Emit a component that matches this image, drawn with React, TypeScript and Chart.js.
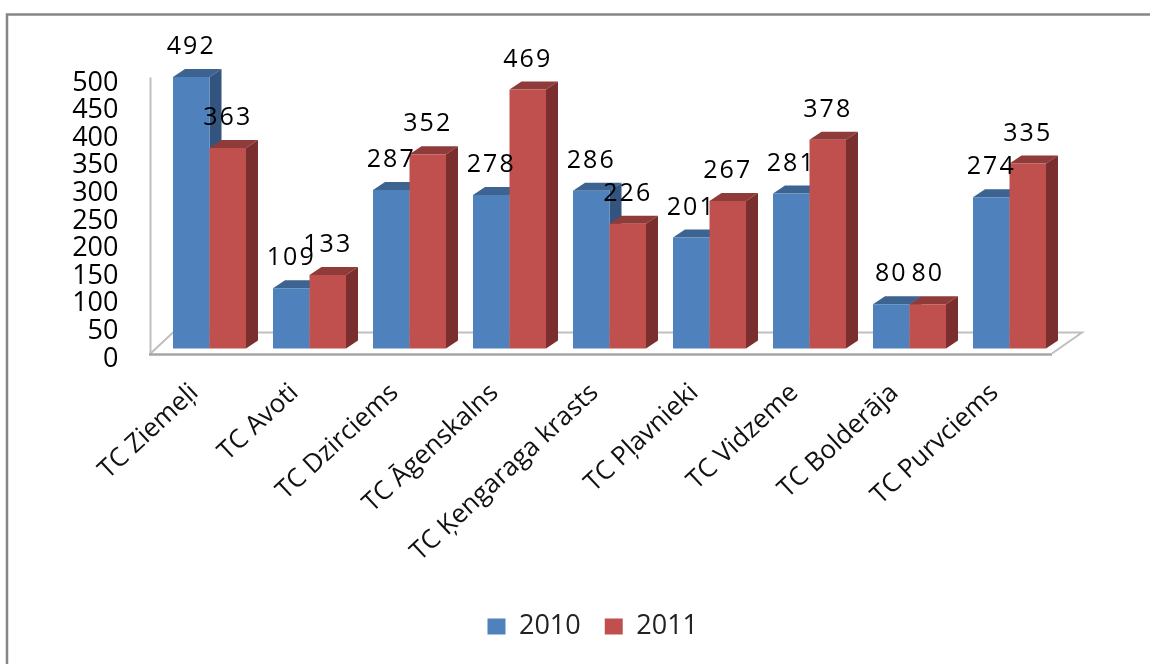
import React, { useEffect, useRef } from "react";
import { Chart, registerables } from "chart.js";

Chart.register(...registerables);

const categories = ["TC Ziemeļi", "TC Avoti", "TC Dzirciems", "TC Āgenskalns", "TC Ķengaraga krasts", "TC Pļavnieki", "TC Vidzeme", "TC Bolderāja", "TC Purvciems"];
const values2010 = [492, 109, 287, 278, 286, 201, 281, 80, 274];
const values2011 = [363, 133, 352, 469, 226, 267, 378, 80, 335];
const FONT = "'Open Sans', sans-serif";

const depthX = 12;
const depthY = 8;
const shades = [
  { top: "#3D6391", side: "#33547E" },
  { top: "#8F3B39", side: "#7A2F2E" },
];

function poly(ctx: CanvasRenderingContext2D, pts: number[][], fill: string) {
  ctx.beginPath();
  pts.forEach(([x, y], i) => (i ? ctx.lineTo(x, y) : ctx.moveTo(x, y)));
  ctx.closePath();
  ctx.fillStyle = fill;
  ctx.fill();
}

function line(ctx: CanvasRenderingContext2D, pts: number[][], color: string, w: number) {
  ctx.beginPath();
  pts.forEach(([x, y], i) => (i ? ctx.lineTo(x, y) : ctx.moveTo(x, y)));
  ctx.strokeStyle = color;
  ctx.lineWidth = w;
  ctx.stroke();
}

const bars3d = {
  id: "bars3d",
  beforeDraw(chart: any) {
    const ctx = chart.ctx;
    line(ctx, [[1150, 14.5], [7, 14.5], [7, 664]], "#868686", 2.5);
  },
  afterLayout(chart: any) {
    const l = chart.legend;
    l.left += 63;
    l.right += 63;
    l.top -= 14;
    l.bottom -= 14;
  },
  beforeDatasetsDraw(chart: any) {
    const ctx = chart.ctx;
    const a = chart.chartArea;
    const b = a.bottom;
    // back wall edge and floor
    line(ctx, [[150.5, a.top + 5], [150.5, b + 6]], "#BFBFBF", 2);
    line(ctx, [[150.5, b + 5], [173, b - 16], [a.right + 22.5, b - 16], [a.right - 7.5, b + 5]], "#BFBFBF", 2);
    line(ctx, [[149, b + 6], [a.right - 7.5, b + 6]], "#A6A6A6", 2.5);
  },
  beforeDatasetDraw() {
    return false;
  },
  afterDatasetsDraw(chart: any) {
    const ctx = chart.ctx;
    [0, 1].forEach((di) => {
      chart.getDatasetMeta(di).data.forEach((el: any) => {
        const { x, y, base, width } = el.getProps(["x", "y", "base", "width"], true);
        const l = x - width / 2;
        const r = x + width / 2;
        poly(ctx, [[l, y], [l + depthX, y - depthY], [r + depthX, y - depthY], [r, y]], shades[di].top);
        poly(ctx, [[r, y], [r + depthX, y - depthY], [r + depthX, base - depthY], [r, base]], shades[di].side);
        el.draw(ctx);
      });
    });
  },
  afterDraw(chart: any) {
    const ctx = chart.ctx;
    ctx.save();
    ctx.font = `25px ${FONT}`;
    (ctx as any).letterSpacing = "2px";
    ctx.fillStyle = "#000";
    ctx.textAlign = "center";
    ctx.textBaseline = "middle";
    chart.data.datasets.forEach((ds: any, di: number) => {
      chart.getDatasetMeta(di).data.forEach((el: any, i: number) => {
        ctx.fillText(String(ds.data[i]), el.x, el.y - 30);
      });
    });
    ctx.restore();
  },
};

export default function App() {
  const ref = useRef<HTMLCanvasElement>(null);
  useEffect(() => {
    const chart = new Chart(ref.current!, {
      type: "bar",
      data: {
        labels: categories,
        datasets: [
          { label: "2010", data: values2010, backgroundColor: "#4F81BD" },
          { label: "2011", data: values2011, backgroundColor: "#C0504D" },
        ],
      },
      plugins: [bars3d],
      options: {
        responsive: false,
        animation: false,
        layout: { padding: { top: 72.5, right: 90.5, left: 0, bottom: 0 } },
        datasets: { bar: { categoryPercentage: 0.73, barPercentage: 1 } },
        plugins: {
          tooltip: { enabled: false },
          legend: {
            position: "bottom",
            labels: {
              boxWidth: 18,
              boxHeight: 16,
              padding: 24,
              color: "#222",
              font: { family: FONT, size: 27 },
            },
          },
        },
        scales: {
          x: {
            grid: { display: false },
            border: { display: false },
            afterFit(s: any) {
              s.height = 664 - 348.5 - 61;
            },
            ticks: {
              autoSkip: false,
              minRotation: 43,
              maxRotation: 43,
              padding: 21,
              labelOffset: -15,
              color: "#111",
              font: { family: FONT, size: 26 },
            },
          },
          y: {
            min: 0,
            max: 500,
            grid: { display: false, drawTicks: false },
            border: { display: false },
            afterFit(s: any) {
              s.width = 159.5;
            },
            ticks: {
              autoSkip: false,
              stepSize: 50,
              padding: 41,
              labelOffset: 10.5,
              color: "#000",
              font: { family: FONT, size: 27 },
            },
          },
        },
      },
    } as any);
    return () => chart.destroy();
  }, []);
  return (
    <div style={{ position: "absolute", left: 0, top: 0, width: 1150, height: 664, background: "#fff" }}>
      <canvas ref={ref} width={1150} height={664} style={{ display: "block" }} />
    </div>
  );
}
